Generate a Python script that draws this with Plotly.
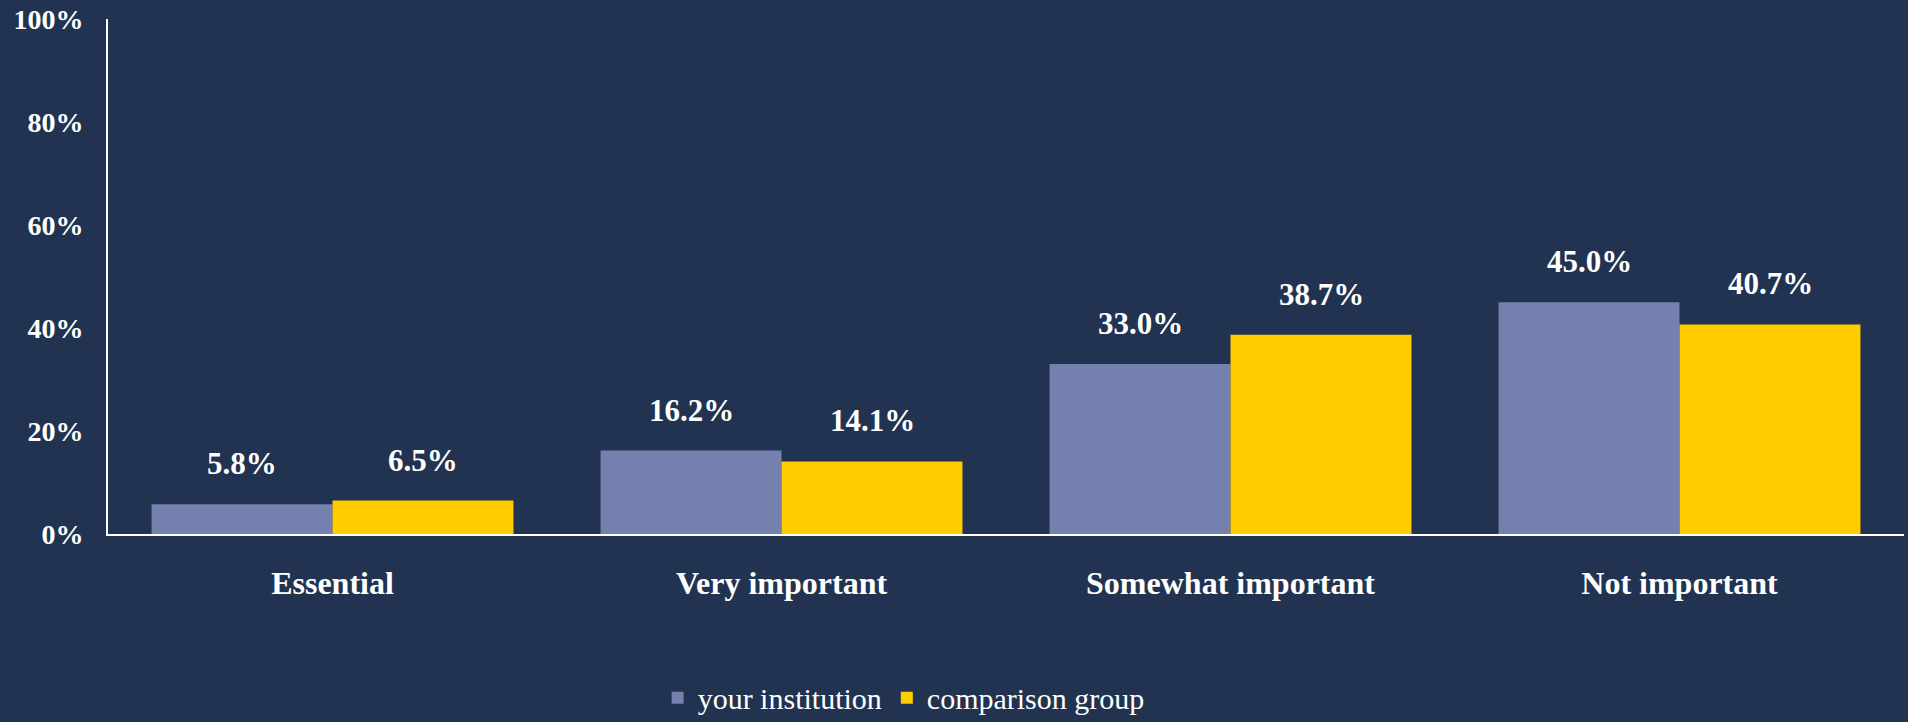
import plotly.graph_objects as go

categories = ["Essential", "Very important", "Somewhat important", "Not important"]
your_institution = [5.8, 16.2, 33.0, 45.0]
comparison_group = [6.5, 14.1, 38.7, 40.7]
series_names = ["your institution", "comparison group"]
y_ticks = [0, 20, 40, 60, 80, 100]

BG = "#213350"
C1 = "#7480ad"
C2 = "#ffcc00"
FONT = "Liberation Serif"

fig = go.Figure()
fig.add_trace(go.Bar(x=categories, y=your_institution, name=series_names[0],
                     marker=dict(color=C1, line=dict(width=0))))
fig.add_trace(go.Bar(x=categories, y=comparison_group, name=series_names[1],
                     marker=dict(color=C2, line=dict(width=0))))

annotations = []
for vals, shift in ((your_institution, -90.5), (comparison_group, 90.5)):
    for c, v in zip(categories, vals):
        annotations.append(dict(x=c, y=v, xref="x", yref="y", text=f"<b>{v:.1f}%</b>",
                                showarrow=False, xshift=shift, yanchor="bottom", yshift=21,
                                font=dict(family=FONT, size=31, color="white")))

fig.update_layout(
    width=1908, height=722,
    paper_bgcolor=BG, plot_bgcolor=BG,
    margin=dict(l=108, r=4, t=19, b=188, autoexpand=False),
    barmode="group", bargap=0.194, bargroupgap=0,
    font=dict(family=FONT, color="white"),
    showlegend=True,
    legend=dict(orientation="h", x=0.443, xanchor="center", y=-0.318, yanchor="middle",
                font=dict(family=FONT, size=30, color="white"),
                itemwidth=30, traceorder="normal", bgcolor="rgba(0,0,0,0)"),
    annotations=annotations,
)
fig.update_xaxes(showline=True, linecolor="white", linewidth=2, showgrid=False,
                 ticks="", ticklabelstandoff=20, automargin=False,
                 tickfont=dict(family=FONT, size=32, color="white"),
                 tickvals=categories, ticktext=[f"<b>{c}</b>" for c in categories])
fig.update_yaxes(range=[0, 100], showline=True, linecolor="white", linewidth=2,
                 showgrid=False, zeroline=False, ticks="", ticklabelstandoff=17,
                 automargin=False,
                 tickvals=y_ticks, ticktext=[f"<b>{t}%</b>" for t in y_ticks],
                 tickfont=dict(family=FONT, size=28, color="white"))

fig.write_html("out.html", config={"displayModeBar": False},
               post_script="document.body.style.margin='0';document.body.style.overflow='hidden';")
